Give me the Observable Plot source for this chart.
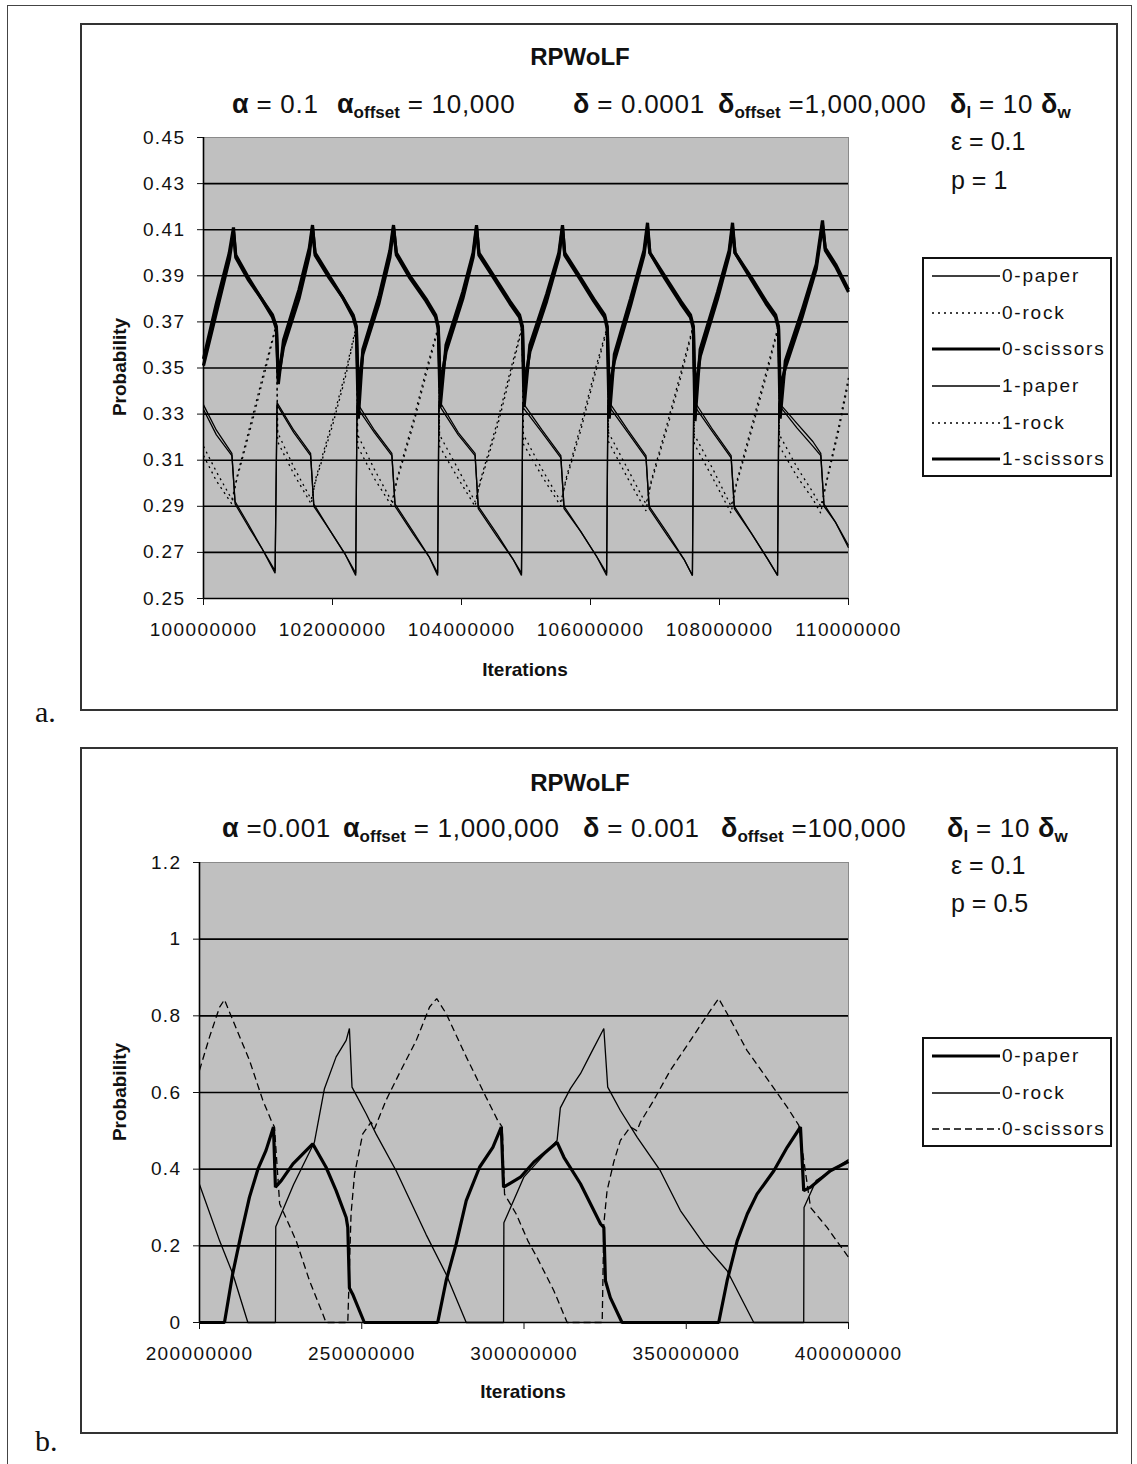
<!DOCTYPE html>
<html><head><meta charset="utf-8">
<script src="https://cdn.jsdelivr.net/npm/d3@7"></script>
<script src="https://cdn.jsdelivr.net/npm/@observablehq/plot@0.6"></script>
<style>
body{margin:0;background:#fff;}
#page{position:relative;width:1137px;height:1464px;overflow:hidden;font-family:"Liberation Sans",Arial,sans-serif;color:#111;}
.box{position:absolute;box-sizing:border-box;border:2px solid #333;}
.t{position:absolute;transform:translateY(-50%);white-space:nowrap;font-size:25px;letter-spacing:0px;}
.pm{font-size:26px;letter-spacing:0.7px;}
.c{position:absolute;transform:translate(-50%,-50%);white-space:nowrap;}
.g{font-weight:bold;font-size:27px;letter-spacing:0;}
.s{font-weight:bold;font-size:17px;position:relative;top:5px;letter-spacing:0;}
.ttl{font-weight:bold;font-size:24px;}
.axt{font-weight:bold;font-size:19px;}
.rot{transform:translate(-50%,-50%) rotate(-90deg);}
.lab{position:absolute;font-family:"Liberation Serif","Times New Roman",serif;font-size:30px;transform:translateY(-50%);}
.plotwrap{position:absolute;}
.leg{position:absolute;box-sizing:border-box;border:2px solid #111;background:#fff;}
.row{position:absolute;left:8px;height:20px;transform:translateY(-50%);display:flex;align-items:center;font-size:19px;letter-spacing:1.8px;white-space:nowrap;}
.row svg{display:block;margin-right:2px;}
</style>
</head><body>
<div id="page">
  <div class="box" style="left:7px;top:5px;width:1125px;height:1500px;border-bottom:none;border-width:1.5px;border-color:#444;"></div>
  <div class="box" style="left:80px;top:23px;width:1038px;height:688px;"></div>
  <div class="box" style="left:80px;top:747px;width:1038px;height:687px;"></div>
  <div class="lab" style="left:35px;top:712px;">a.</div>
  <div class="lab" style="left:35px;top:1441px;">b.</div>

  <div class="plotwrap" id="plotA" style="left:81px;top:24px;"></div>
  <div class="plotwrap" id="plotB" style="left:81px;top:748px;"></div>

  <!-- panel a texts -->
  <div class="c ttl" style="left:580px;top:57px;">RPWoLF</div>
  <div class="t pm" style="left:232px;top:104px;"><span class="g">α</span> = 0.1</div>
  <div class="t pm" style="left:337px;top:104px;"><span class="g">α</span><span class="s">offset</span> = 10,000</div>
  <div class="t pm" style="left:573px;top:104px;"><span class="g">δ</span> = 0.0001</div>
  <div class="t pm" style="left:718px;top:104px;"><span class="g">δ</span><span class="s">offset</span> =1,000,000</div>
  <div class="t pm" style="left:950px;top:104px;"><span class="g">δ</span><span class="s">l</span> = 10 <span class="g">δ</span><span class="s">w</span></div>
  <div class="t" style="left:951px;top:141px;">ε = 0.1</div>
  <div class="t" style="left:951px;top:180px;">p = 1</div>
  <div class="c axt rot" style="left:120px;top:367px;">Probability</div>
  <div class="c axt" style="left:525px;top:670px;">Iterations</div>
  <div class="leg" id="legA" style="left:922px;top:257px;width:190px;height:220px;"></div>

  <!-- panel b texts -->
  <div class="c ttl" style="left:580px;top:783px;">RPWoLF</div>
  <div class="t pm" style="left:222px;top:828px;"><span class="g">α</span> =0.001</div>
  <div class="t pm" style="left:343px;top:828px;"><span class="g">α</span><span class="s">offset</span> = 1,000,000</div>
  <div class="t pm" style="left:583px;top:828px;"><span class="g">δ</span> = 0.001</div>
  <div class="t pm" style="left:721px;top:828px;"><span class="g">δ</span><span class="s">offset</span> =100,000</div>
  <div class="t pm" style="left:947px;top:828px;"><span class="g">δ</span><span class="s">l</span> = 10 <span class="g">δ</span><span class="s">w</span></div>
  <div class="t" style="left:951px;top:865px;">ε = 0.1</div>
  <div class="t" style="left:951px;top:903px;">p = 0.5</div>
  <div class="c axt rot" style="left:120px;top:1092px;">Probability</div>
  <div class="c axt" style="left:523px;top:1392px;">Iterations</div>
  <div class="leg" id="legB" style="left:922px;top:1037px;width:190px;height:110px;"></div>
</div>
<script>
// ---------- Panel a data (iterations in millions) ----------
const aXTicks = [100e6,102e6,104e6,106e6,108e6,110e6];
const aYTicks = [0.25,0.27,0.29,0.31,0.33,0.35,0.37,0.39,0.41,0.43,0.45];
const aSeriesNames = ["0-paper","0-rock","0-scissors","1-paper","1-rock","1-scissors"];

const aScissorsT = [100.00,100.20,100.40,100.465,100.50,100.70,100.90,101.07,101.13,101.16,
 101.24,101.48,101.64,101.69,101.73,101.95,102.15,102.32,102.37,102.40,
 102.47,102.72,102.89,102.946,102.99,103.20,103.45,103.60,103.64,103.67,
 103.76,104.02,104.18,104.233,104.27,104.50,104.75,104.90,104.945,104.97,
 105.06,105.32,105.51,105.566,105.60,105.85,106.05,106.22,106.26,106.29,
 106.37,106.62,106.83,106.884,106.92,107.15,107.40,107.55,107.595,107.62,
 107.70,107.97,108.15,108.202,108.24,108.50,108.72,108.87,108.915,108.94,
 109.02,109.28,109.50,109.597,109.64,109.80,110.00];
const aScissors0 = [0.354,0.378,0.400,0.411,0.398,0.388,0.380,0.372,0.367,0.343,
 0.362,0.384,0.402,0.412,0.399,0.389,0.381,0.372,0.367,0.328,
 0.358,0.381,0.401,0.412,0.399,0.389,0.379,0.372,0.367,0.333,
 0.360,0.383,0.400,0.412,0.399,0.389,0.378,0.372,0.367,0.333,
 0.360,0.382,0.400,0.412,0.399,0.388,0.379,0.372,0.367,0.328,
 0.356,0.380,0.401,0.413,0.400,0.389,0.378,0.372,0.367,0.327,
 0.358,0.383,0.401,0.413,0.400,0.388,0.378,0.372,0.367,0.328,
 0.353,0.375,0.395,0.414,0.401,0.394,0.383];
const aScissors1 = [0.351,0.374,0.397,0.409,0.399,0.389,0.380,0.373,0.368,0.346,
 0.359,0.380,0.399,0.411,0.400,0.390,0.381,0.373,0.368,0.340,
 0.356,0.378,0.398,0.411,0.400,0.390,0.380,0.373,0.368,0.342,
 0.357,0.380,0.398,0.411,0.400,0.390,0.379,0.373,0.368,0.342,
 0.357,0.379,0.398,0.411,0.400,0.389,0.380,0.373,0.368,0.340,
 0.353,0.377,0.399,0.411,0.400,0.390,0.379,0.373,0.368,0.339,
 0.355,0.380,0.399,0.411,0.400,0.389,0.379,0.373,0.368,0.341,
 0.350,0.372,0.393,0.412,0.402,0.395,0.384];

const aPaperT = [100.00,100.20,100.44,100.49,100.70,100.90,101.11,101.14,
 101.40,101.66,101.71,101.95,102.20,102.36,102.38,
 102.65,102.92,102.97,103.25,103.50,103.63,103.65,
 103.95,104.21,104.26,104.55,104.80,104.93,104.95,
 105.25,105.54,105.59,105.85,106.10,106.25,106.27,
 106.58,106.86,106.91,107.20,107.45,107.58,107.60,
 107.90,108.18,108.23,108.50,108.75,108.90,108.92,
 109.20,109.45,109.57,109.62,109.80,110.00];
const aPaper0 = [0.334,0.323,0.313,0.291,0.281,0.272,0.262,0.335,
 0.323,0.313,0.290,0.280,0.269,0.261,0.335,
 0.323,0.313,0.290,0.278,0.268,0.261,0.336,
 0.322,0.313,0.289,0.277,0.267,0.261,0.335,
 0.323,0.312,0.289,0.279,0.268,0.261,0.336,
 0.323,0.312,0.289,0.277,0.267,0.260,0.336,
 0.323,0.312,0.289,0.278,0.267,0.260,0.335,
 0.326,0.318,0.313,0.290,0.283,0.272];
const aPaper1 = [0.332,0.321,0.312,0.292,0.282,0.272,0.261,0.334,
 0.322,0.312,0.291,0.280,0.269,0.260,0.333,
 0.322,0.312,0.291,0.279,0.268,0.260,0.334,
 0.321,0.312,0.290,0.278,0.267,0.260,0.333,
 0.322,0.311,0.290,0.279,0.268,0.260,0.334,
 0.322,0.311,0.290,0.278,0.267,0.260,0.334,
 0.322,0.311,0.290,0.278,0.267,0.260,0.334,
 0.324,0.316,0.312,0.291,0.283,0.273];

const aRockT = [100.00,100.20,100.44,100.52,100.75,100.95,101.10,101.13,101.15,
 101.40,101.67,101.74,102.00,102.20,102.35,102.37,102.39,
 102.65,102.92,103.00,103.25,103.45,103.62,103.64,103.66,
 103.95,104.21,104.29,104.55,104.75,104.92,104.94,104.96,
 105.25,105.54,105.62,105.85,106.05,106.24,106.26,106.28,
 106.58,106.86,106.94,107.20,107.40,107.57,107.59,107.61,
 107.90,108.18,108.26,108.50,108.72,108.89,108.91,108.93,
 109.20,109.45,109.57,109.65,109.85,110.00];
const aRock0 = [0.312,0.301,0.291,0.303,0.328,0.350,0.366,0.369,0.318,
 0.304,0.291,0.302,0.327,0.348,0.366,0.369,0.316,
 0.302,0.290,0.302,0.327,0.349,0.366,0.369,0.316,
 0.302,0.290,0.301,0.326,0.348,0.366,0.369,0.317,
 0.303,0.290,0.302,0.325,0.347,0.366,0.369,0.318,
 0.302,0.288,0.301,0.327,0.348,0.366,0.369,0.317,
 0.302,0.287,0.300,0.325,0.348,0.366,0.369,0.316,
 0.303,0.293,0.287,0.300,0.325,0.346];
const aRock1 = [0.316,0.305,0.293,0.302,0.326,0.348,0.365,0.368,0.322,
 0.307,0.293,0.301,0.325,0.346,0.365,0.368,0.321,
 0.306,0.292,0.301,0.325,0.347,0.365,0.368,0.321,
 0.306,0.292,0.300,0.324,0.346,0.365,0.368,0.321,
 0.306,0.292,0.301,0.323,0.345,0.365,0.368,0.322,
 0.306,0.291,0.300,0.325,0.346,0.365,0.368,0.321,
 0.306,0.290,0.299,0.323,0.346,0.365,0.368,0.321,
 0.307,0.296,0.290,0.299,0.323,0.344];

// ---------- Panel b data (iterations in millions) ----------
const bXTicks = [200e6,250e6,300e6,350e6,400e6];
const bYTicks = [0,0.2,0.4,0.6,0.8,1,1.2];
const bSeriesNames = ["0-paper","0-rock","0-scissors"];

const bPaperT = [200.0,207.7,210.2,212.8,215.4,218.0,220.5,222.8,223.4,225.2,228.8,234.9,239.0,242.1,245.2,245.7,246.2,247.2,250.8,273.4,276.0,279.1,282.2,286.3,290.4,293.0,293.7,298.9,303.0,310.2,312.3,317.4,323.6,324.6,325.1,326.6,330.2,360.0,362.6,365.7,368.8,371.8,377.0,381.1,385.2,386.2,388.3,394.4,400.0];
const bPaper = [0,0,0.126,0.23,0.327,0.40,0.449,0.51,0.353,0.37,0.414,0.466,0.405,0.344,0.274,0.248,0.09,0.074,0,0,0.109,0.205,0.318,0.405,0.457,0.51,0.353,0.379,0.418,0.470,0.431,0.362,0.257,0.248,0.109,0.065,0,0,0.109,0.213,0.283,0.335,0.396,0.457,0.51,0.344,0.353,0.396,0.42];

const bRockT = [200.0,206.2,210.3,214.9,223.4,223.5,229.0,235.4,238.5,242.1,245.2,246.2,247.0,251.4,254.4,260.6,269.8,276.0,282.2,293.7,293.8,300.0,310.2,311.2,314.3,317.4,320.5,324.6,325.8,329.7,334.9,342.0,348.2,355.4,362.6,370.8,386.2,386.3,390.0,400.0];
const bRock = [0.36,0.213,0.126,0,0,0.25,0.36,0.47,0.61,0.693,0.736,0.767,0.614,0.544,0.492,0.396,0.23,0.126,0,0,0.26,0.38,0.475,0.56,0.61,0.649,0.70,0.767,0.614,0.553,0.483,0.396,0.292,0.205,0.135,0,0,0.30,0.37,0.425];

const bScissorsT = [200.0,203.1,206.2,207.7,210.3,215.4,219.5,222.1,223.1,224.7,229.8,233.9,238.0,239.0,245.7,246.7,247.8,250.3,252.9,253.9,255.0,257.5,261.6,266.8,270.9,273.1,276.0,282.2,288.3,291.9,293.3,294.0,297.6,301.2,304.0,309.2,313.3,324.1,324.6,325.6,327.7,329.7,332.8,334.8,335.9,340.0,345.1,351.3,357.5,360.0,362.6,368.7,376.0,381.1,384.7,388.3,393.4,400.0];
const bScissors = [0.658,0.745,0.823,0.842,0.788,0.684,0.58,0.527,0.51,0.31,0.213,0.109,0.022,0,0,0.283,0.388,0.492,0.523,0.505,0.528,0.58,0.65,0.736,0.823,0.845,0.806,0.693,0.588,0.527,0.51,0.335,0.283,0.213,0.17,0.083,0,0,0.257,0.344,0.42,0.475,0.51,0.50,0.523,0.58,0.658,0.736,0.815,0.845,0.806,0.71,0.623,0.562,0.514,0.30,0.248,0.17];

// ---------- helpers ----------
const rows = (ts, vs) => ts.slice(0, Math.min(ts.length, vs.length)).map((t, i) => ({x: t * 1e6, y: vs[i]}));
const fontFam = "'Liberation Sans', Arial, sans-serif";
const styleA = {fontFamily: fontFam, fontSize: "19px", letterSpacing: "1.4px", background: "transparent", overflow: "visible", color: "#111"};

const THIN = 1.3, THICK = 3.2, DOT = "2,4", DASH = "7,4";

function lineMark(data, w, dash) {
  return Plot.line(data, {x: "x", y: "y", stroke: "#000", strokeWidth: w, strokeDasharray: dash, strokeLinecap: "butt", strokeLinejoin: "miter"});
}

// ---------- Panel a ----------
const plotA = Plot.plot({
  width: 1036, height: 686,
  marginLeft: 122, marginRight: 269, marginTop: 113, marginBottom: 112,
  style: styleA,
  x: {domain: [100e6, 110e6]},
  y: {domain: [0.25, 0.45]},
  marks: [
    Plot.frame({fill: "#c0c0c0", stroke: "#8a8a8a"}),
    Plot.ruleY(aYTicks.slice(1, -1), {stroke: "#000", strokeWidth: 1.6}),
    lineMark(rows(aRockT, aRock1), THIN, DOT),
    lineMark(rows(aRockT, aRock0), THIN, DOT),
    lineMark(rows(aPaperT, aPaper1), THIN, null),
    lineMark(rows(aPaperT, aPaper0), THIN, null),
    lineMark(rows(aScissorsT, aScissors1), THICK, null),
    lineMark(rows(aScissorsT, aScissors0), THICK, null),
    Plot.ruleX([100e6], {stroke: "#000", strokeWidth: 1.6}),
    Plot.ruleY([0.25], {stroke: "#000", strokeWidth: 1.6}),
    Plot.axisY(aYTicks, {tickFormat: d3.format(".2f"), tickSize: 6, tickPadding: 12, label: null, fontSize: 19}),
    Plot.axisX(aXTicks, {tickFormat: d3.format("d"), tickSize: 7, tickPadding: 17, label: null, fontSize: 19})
  ]
});
document.getElementById("plotA").appendChild(plotA);

// ---------- Panel b ----------
const plotB = Plot.plot({
  width: 1036, height: 685,
  marginLeft: 118, marginRight: 269, marginTop: 114, marginBottom: 111,
  style: styleA,
  x: {domain: [200e6, 400e6]},
  y: {domain: [0, 1.2]},
  marks: [
    Plot.frame({fill: "#c0c0c0", stroke: "#8a8a8a"}),
    Plot.ruleY(bYTicks.slice(1, -1), {stroke: "#000", strokeWidth: 1.6}),
    lineMark(rows(bScissorsT, bScissors), THIN, DASH),
    lineMark(rows(bRockT, bRock), THIN, null),
    lineMark(rows(bPaperT, bPaper), THICK, null),
    Plot.ruleX([200e6], {stroke: "#000", strokeWidth: 1.6}),
    Plot.ruleY([0], {stroke: "#000", strokeWidth: 1.6}),
    Plot.axisY(bYTicks, {tickFormat: d => String(d), tickSize: 6, tickPadding: 12, label: null, fontSize: 19}),
    Plot.axisX(bXTicks, {tickFormat: d3.format("d"), tickSize: 7, tickPadding: 17, label: null, fontSize: 19})
  ]
});
document.getElementById("plotB").appendChild(plotB);

// ---------- Legends ----------
function legend(el, names, styles, centers) {
  names.forEach((name, i) => {
    const [w, dash] = styles[i];
    const row = document.createElement("div");
    row.className = "row";
    row.style.top = centers[i] + "px";
    row.innerHTML = `<svg width="68" height="10"><line x1="0" y1="5" x2="68" y2="5" stroke="#000" stroke-width="${w}" ${dash ? `stroke-dasharray="${dash}"` : ""}/></svg><span>${name}</span>`;
    el.appendChild(row);
  });
}
legend(document.getElementById("legA"), aSeriesNames,
  [[THIN, null], [THIN, DOT], [THICK, null], [THIN, null], [THIN, DOT], [THICK, null]],
  [17, 54, 90, 127, 164, 200]);
legend(document.getElementById("legB"), bSeriesNames,
  [[THICK, null], [THIN, null], [THIN, DASH]],
  [17, 54, 90]);
</script>
</body></html>
